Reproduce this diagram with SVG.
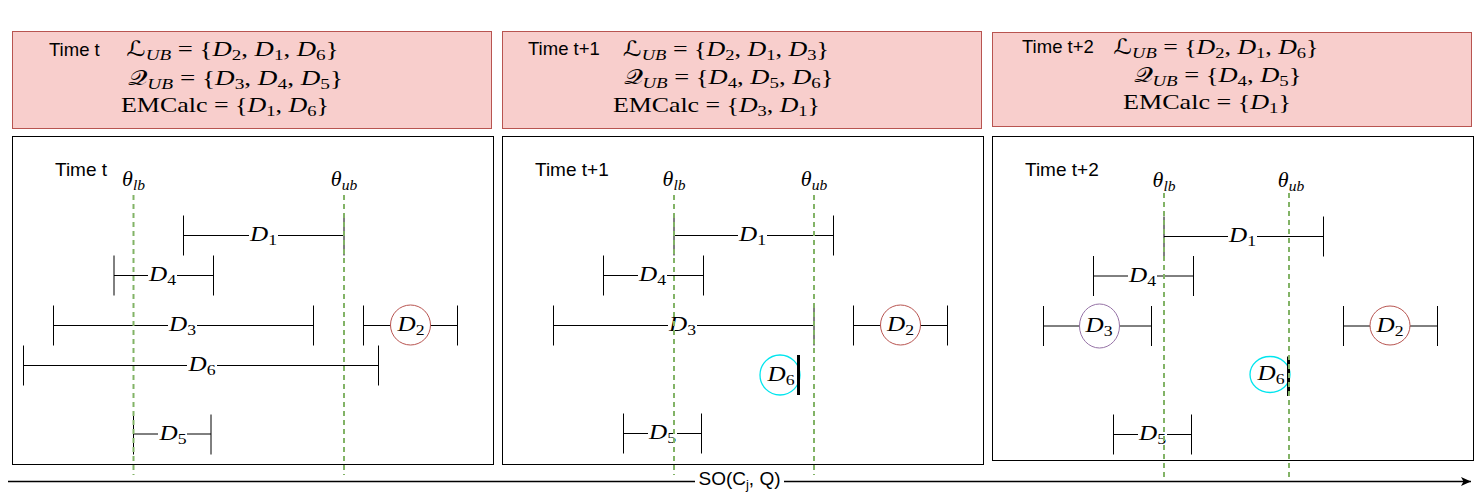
<svg xmlns="http://www.w3.org/2000/svg" width="1480" height="496" viewBox="0 0 1480 496">
<style>
.box{fill:#f8cecc;stroke:#b85450;stroke-width:1}
.panel{fill:#fff;stroke:#000;stroke-width:1}
.lbl{font-family:"Liberation Sans",Arial,Helvetica,sans-serif;font-size:18.5px;fill:#000}
.m{font-family:"Liberation Serif","Times New Roman",serif;font-size:21px;fill:#000}
.dl{font-family:"Liberation Serif","Times New Roman",serif;font-size:22px;fill:#000}
.i{font-style:italic}
.s{font-size:15px}
.ds{font-size:15.5px}
.cal{font-family:"DejaVu Serif","DejaVu Sans","Liberation Serif",serif;font-style:normal}
.thr{stroke:#82b366;stroke-width:2;stroke-dasharray:5 4;fill:none}
.iv{stroke:#000;stroke-width:1;fill:none}
.bg{fill:#fff}
.bar{stroke:#000;stroke-width:3}
.red{fill:#fff;stroke:#b85450;stroke-width:1}
.cyan{fill:#fff;stroke:#00e5ee;stroke-width:1.3}
.pur{fill:#fff;stroke:#9673a6;stroke-width:1}
</style>
<defs>
<marker id="arr" markerWidth="12" markerHeight="10" refX="10" refY="5" orient="auto" markerUnits="userSpaceOnUse">
<path d="M0,0.5 L10,5 L0,9.5 L2.5,5 Z" fill="#000"/>
</marker>
</defs>

<!-- top state boxes -->
<g id="state-t">
<rect class="box" x="12.5" y="31.5" width="479" height="97"/>
<text class="lbl" x="49" y="55.5">Time t</text>
<text class="m" x="232.5" y="56" text-anchor="middle" textLength="212" lengthAdjust="spacingAndGlyphs"><tspan class="cal">ℒ</tspan><tspan class="s i" dy="4">UB</tspan><tspan dy="-4"> = {</tspan><tspan class="i">D</tspan><tspan class="s" dy="4">2</tspan><tspan dy="-4">, </tspan><tspan class="i">D</tspan><tspan class="s" dy="4">1</tspan><tspan dy="-4">, </tspan><tspan class="i">D</tspan><tspan class="s" dy="4">6</tspan><tspan dy="-4">}</tspan></text>
<text class="m" x="235.5" y="84.5" text-anchor="middle" textLength="215" lengthAdjust="spacingAndGlyphs"><tspan class="cal">𝒬</tspan><tspan class="s i" dy="4">UB</tspan><tspan dy="-4"> = {</tspan><tspan class="i">D</tspan><tspan class="s" dy="4">3</tspan><tspan dy="-4">, </tspan><tspan class="i">D</tspan><tspan class="s" dy="4">4</tspan><tspan dy="-4">, </tspan><tspan class="i">D</tspan><tspan class="s" dy="4">5</tspan><tspan dy="-4">}</tspan></text>
<text class="m" x="225" y="112" text-anchor="middle" textLength="208" lengthAdjust="spacingAndGlyphs">EMCalc = {<tspan class="i">D</tspan><tspan class="s" dy="4">1</tspan><tspan dy="-4">, </tspan><tspan class="i">D</tspan><tspan class="s" dy="4">6</tspan><tspan dy="-4">}</tspan></text>
</g>

<g id="state-t1">
<rect class="box" x="502.5" y="31.5" width="479" height="97"/>
<text class="lbl" x="528" y="54.5">Time t+1</text>
<text class="m" x="726" y="55.5" text-anchor="middle" textLength="206" lengthAdjust="spacingAndGlyphs"><tspan class="cal">ℒ</tspan><tspan class="s i" dy="4">UB</tspan><tspan dy="-4"> = {</tspan><tspan class="i">D</tspan><tspan class="s" dy="4">2</tspan><tspan dy="-4">, </tspan><tspan class="i">D</tspan><tspan class="s" dy="4">1</tspan><tspan dy="-4">, </tspan><tspan class="i">D</tspan><tspan class="s" dy="4">3</tspan><tspan dy="-4">}</tspan></text>
<text class="m" x="728.5" y="84" text-anchor="middle" textLength="210" lengthAdjust="spacingAndGlyphs"><tspan class="cal">𝒬</tspan><tspan class="s i" dy="4">UB</tspan><tspan dy="-4"> = {</tspan><tspan class="i">D</tspan><tspan class="s" dy="4">4</tspan><tspan dy="-4">, </tspan><tspan class="i">D</tspan><tspan class="s" dy="4">5</tspan><tspan dy="-4">, </tspan><tspan class="i">D</tspan><tspan class="s" dy="4">6</tspan><tspan dy="-4">}</tspan></text>
<text class="m" x="716.5" y="111.5" text-anchor="middle" textLength="207" lengthAdjust="spacingAndGlyphs">EMCalc = {<tspan class="i">D</tspan><tspan class="s" dy="4">3</tspan><tspan dy="-4">, </tspan><tspan class="i">D</tspan><tspan class="s" dy="4">1</tspan><tspan dy="-4">}</tspan></text>
</g>

<g id="state-t2">
<rect class="box" x="992.5" y="32.5" width="479" height="94"/>
<text class="lbl" x="1022" y="53">Time t+2</text>
<text class="m" x="1216" y="53.5" text-anchor="middle" textLength="205" lengthAdjust="spacingAndGlyphs"><tspan class="cal">ℒ</tspan><tspan class="s i" dy="4">UB</tspan><tspan dy="-4"> = {</tspan><tspan class="i">D</tspan><tspan class="s" dy="4">2</tspan><tspan dy="-4">, </tspan><tspan class="i">D</tspan><tspan class="s" dy="4">1</tspan><tspan dy="-4">, </tspan><tspan class="i">D</tspan><tspan class="s" dy="4">6</tspan><tspan dy="-4">}</tspan></text>
<text class="m" x="1217.5" y="81.5" text-anchor="middle" textLength="168" lengthAdjust="spacingAndGlyphs"><tspan class="cal">𝒬</tspan><tspan class="s i" dy="4">UB</tspan><tspan dy="-4"> = {</tspan><tspan class="i">D</tspan><tspan class="s" dy="4">4</tspan><tspan dy="-4">, </tspan><tspan class="i">D</tspan><tspan class="s" dy="4">5</tspan><tspan dy="-4">}</tspan></text>
<text class="m" x="1207" y="108.5" text-anchor="middle" textLength="168" lengthAdjust="spacingAndGlyphs">EMCalc = {<tspan class="i">D</tspan><tspan class="s" dy="4">1</tspan><tspan dy="-4">}</tspan></text>
</g>

<!-- panels -->
<g id="panel-t">
<rect class="panel" x="12.5" y="136.5" width="481" height="328"/>
<text class="lbl" x="55" y="176" style="font-size:19px">Time t</text>
</g>
<g id="panel-t1">
<rect class="panel" x="502.5" y="136.5" width="481" height="328"/>
<text class="lbl" x="535" y="176" style="font-size:19px">Time t+1</text>
</g>
<g id="panel-t2">
<rect class="panel" x="992.5" y="136.5" width="481" height="324"/>
<text class="lbl" x="1025" y="176" style="font-size:19px">Time t+2</text>
</g>

<!-- panel t intervals -->
<g id="t-D1"><path class="iv" d="M183.5,215.5V255.5M183.5,235.5H344M344,215.5V255.5"/><rect class="bg" x="249" y="225" width="29" height="22"/><text class="dl" x="263.5" y="241" text-anchor="middle" textLength="27" lengthAdjust="spacingAndGlyphs"><tspan class="i">D</tspan><tspan class="ds" dy="4">1</tspan></text></g>
<g id="t-D4"><path class="iv" d="M114,255.5V295.5M114,275.5H213.5M213.5,255.5V295.5"/><rect class="bg" x="148" y="265" width="29" height="22"/><text class="dl" x="162.5" y="281" text-anchor="middle" textLength="27" lengthAdjust="spacingAndGlyphs"><tspan class="i">D</tspan><tspan class="ds" dy="4">4</tspan></text></g>
<g id="t-D3"><path class="iv" d="M53.5,305.5V345.5M53.5,325.5H313.5M313.5,305.5V345.5"/><rect class="bg" x="168" y="315" width="29" height="22"/><text class="dl" x="182.5" y="331" text-anchor="middle" textLength="27" lengthAdjust="spacingAndGlyphs"><tspan class="i">D</tspan><tspan class="ds" dy="4">3</tspan></text></g>
<g id="t-D2"><path class="iv" d="M363.5,305.5V345.5M363.5,325.5H457.5M457.5,305.5V345.5"/><circle class="red" cx="410.5" cy="325" r="20"/><text class="dl" x="411" y="331" text-anchor="middle" textLength="27" lengthAdjust="spacingAndGlyphs"><tspan class="i">D</tspan><tspan class="ds" dy="4">2</tspan></text></g>
<g id="t-D6"><path class="iv" d="M23.5,345.5V385.5M23.5,365.5H378.5M378.5,345.5V385.5"/><rect class="bg" x="187" y="355" width="30" height="22"/><text class="dl" x="202" y="371" text-anchor="middle" textLength="27" lengthAdjust="spacingAndGlyphs"><tspan class="i">D</tspan><tspan class="ds" dy="4">6</tspan></text></g>
<g id="t-D5"><path class="iv" d="M133.5,414.5V454.5M133.5,434H211M211,414.5V454.5"/><rect class="bg" x="158" y="423" width="29" height="22"/><text class="dl" x="173" y="439.5" text-anchor="middle" textLength="27" lengthAdjust="spacingAndGlyphs"><tspan class="i">D</tspan><tspan class="ds" dy="4">5</tspan></text></g>

<!-- panel t+1 intervals -->
<g id="t1-D1"><path class="iv" d="M674,215.5V255.5M674,235.5H833.5M833.5,215.5V255.5"/><rect class="bg" x="738" y="225" width="29" height="22"/><text class="dl" x="752.5" y="241" text-anchor="middle" textLength="27" lengthAdjust="spacingAndGlyphs"><tspan class="i">D</tspan><tspan class="ds" dy="4">1</tspan></text></g>
<g id="t1-D4"><path class="iv" d="M603.5,255.5V295.5M603.5,275.5H703.5M703.5,255.5V295.5"/><rect class="bg" x="638" y="265" width="29" height="22"/><text class="dl" x="652.5" y="281" text-anchor="middle" textLength="27" lengthAdjust="spacingAndGlyphs"><tspan class="i">D</tspan><tspan class="ds" dy="4">4</tspan></text></g>
<g id="t1-D3"><path class="iv" d="M553.5,305.5V345.5M553.5,325.5H814M814,305.5V345.5"/><rect class="bg" x="668" y="315" width="29" height="22"/><text class="dl" x="682.5" y="331" text-anchor="middle" textLength="27" lengthAdjust="spacingAndGlyphs"><tspan class="i">D</tspan><tspan class="ds" dy="4">3</tspan></text></g>
<g id="t1-D2"><path class="iv" d="M853.5,305.5V345.5M853.5,325.5H947.5M947.5,305.5V345.5"/><circle class="red" cx="900.5" cy="325" r="20"/><text class="dl" x="900.5" y="331" text-anchor="middle" textLength="27" lengthAdjust="spacingAndGlyphs"><tspan class="i">D</tspan><tspan class="ds" dy="4">2</tspan></text></g>
<g id="t1-D6"><circle class="cyan" cx="780" cy="375" r="20"/><text class="dl" x="781" y="380.5" text-anchor="middle" textLength="27" lengthAdjust="spacingAndGlyphs"><tspan class="i">D</tspan><tspan class="ds" dy="4">6</tspan></text><line class="bar" x1="798.5" y1="355" x2="798.5" y2="395"/></g>
<g id="t1-D5"><path class="iv" d="M623.5,413.5V453.5M623.5,433.5H701.5M701.5,413.5V453.5"/><rect class="bg" x="648" y="423" width="29" height="22"/><text class="dl" x="662.5" y="439" text-anchor="middle" textLength="27" lengthAdjust="spacingAndGlyphs"><tspan class="i">D</tspan><tspan class="ds" dy="4">5</tspan></text></g>

<!-- panel t+2 intervals -->
<g id="t2-D1"><path class="iv" d="M1164,216.5V256.5M1164,236.5H1323.5M1323.5,216.5V256.5"/><rect class="bg" x="1228" y="226" width="29" height="22"/><text class="dl" x="1242.5" y="242" text-anchor="middle" textLength="27" lengthAdjust="spacingAndGlyphs"><tspan class="i">D</tspan><tspan class="ds" dy="4">1</tspan></text></g>
<g id="t2-D4"><path class="iv" d="M1093.5,256V296M1093.5,276H1193.5M1193.5,256V296"/><rect class="bg" x="1128" y="265" width="29" height="22"/><text class="dl" x="1142.5" y="281.5" text-anchor="middle" textLength="27" lengthAdjust="spacingAndGlyphs"><tspan class="i">D</tspan><tspan class="ds" dy="4">4</tspan></text></g>
<g id="t2-D3"><path class="iv" d="M1043.5,306V346M1043.5,326H1151.5M1151.5,306V346"/><ellipse class="pur" cx="1099.5" cy="326" rx="20" ry="22"/><text class="dl" x="1099" y="331.5" text-anchor="middle" textLength="27" lengthAdjust="spacingAndGlyphs"><tspan class="i">D</tspan><tspan class="ds" dy="4">3</tspan></text></g>
<g id="t2-D2"><path class="iv" d="M1343.5,306V346M1343.5,326H1437.5M1437.5,306V346"/><ellipse class="red" cx="1390" cy="325.5" rx="20" ry="19.5"/><text class="dl" x="1390" y="331.5" text-anchor="middle" textLength="27" lengthAdjust="spacingAndGlyphs"><tspan class="i">D</tspan><tspan class="ds" dy="4">2</tspan></text></g>
<g id="t2-D6"><ellipse class="cyan" cx="1270" cy="374.5" rx="20" ry="18"/><text class="dl" x="1271" y="380" text-anchor="middle" textLength="27" lengthAdjust="spacingAndGlyphs"><tspan class="i">D</tspan><tspan class="ds" dy="4">6</tspan></text><line class="bar" x1="1288.5" y1="356.5" x2="1288.5" y2="396"/></g>
<g id="t2-D5"><path class="iv" d="M1113.5,414.5V454.5M1113.5,434.5H1191.5M1191.5,414.5V454.5"/><rect class="bg" x="1138" y="424" width="29" height="22"/><text class="dl" x="1152.5" y="440" text-anchor="middle" textLength="27" lengthAdjust="spacingAndGlyphs"><tspan class="i">D</tspan><tspan class="ds" dy="4">5</tspan></text></g>

<!-- threshold labels -->
<g id="thresholds">
<text class="dl" x="133.5" y="186" text-anchor="middle"><tspan class="i">θ</tspan><tspan class="ds i" dy="4">lb</tspan></text>
<text class="dl" x="344" y="186" text-anchor="middle"><tspan class="i">θ</tspan><tspan class="ds i" dy="4">ub</tspan></text>
<text class="dl" x="674" y="186" text-anchor="middle"><tspan class="i">θ</tspan><tspan class="ds i" dy="4">lb</tspan></text>
<text class="dl" x="814" y="186" text-anchor="middle"><tspan class="i">θ</tspan><tspan class="ds i" dy="4">ub</tspan></text>
<text class="dl" x="1164" y="186.5" text-anchor="middle"><tspan class="i">θ</tspan><tspan class="ds i" dy="4">lb</tspan></text>
<text class="dl" x="1291" y="186.5" text-anchor="middle"><tspan class="i">θ</tspan><tspan class="ds i" dy="4">ub</tspan></text>
</g>

<!-- connectors -->
<g id="connectors">
<line class="thr" x1="133.5" y1="195" x2="133.5" y2="475"/>
<line class="thr" x1="344" y1="195" x2="344" y2="475"/>
<line class="thr" x1="674" y1="195" x2="674" y2="475"/>
<line class="thr" x1="814" y1="195" x2="814" y2="475"/>
<line class="thr" x1="1164" y1="193" x2="1164" y2="477"/>
<line class="thr" x1="1289" y1="193" x2="1289" y2="477"/>
<line x1="8" y1="481.5" x2="1471" y2="481.5" stroke="#000" stroke-width="1.3" marker-end="url(#arr)"/>
<rect class="bg" x="695" y="469" width="89" height="27"/>
<text class="lbl" x="739.5" y="484.5" text-anchor="middle" style="font-size:19px">SO(C<tspan dy="4" style="font-size:13px">j</tspan><tspan dy="-4">, Q)</tspan></text>
</g>
</svg>
